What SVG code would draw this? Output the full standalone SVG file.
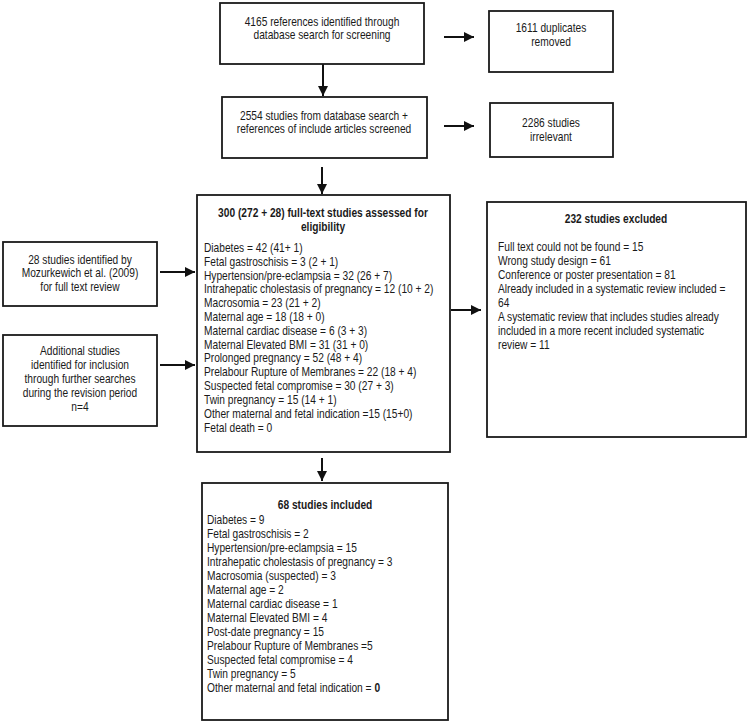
<svg xmlns="http://www.w3.org/2000/svg" width="750" height="725" viewBox="0 0 750 725">
<defs>
<marker id="ah" viewBox="0 0 10 10" refX="10" refY="5" markerWidth="5" markerHeight="5" orient="auto" markerUnits="strokeWidth">
<path d="M0,0 L10,5 L0,10 z" fill="#111"/>
</marker>
<style>
.box{fill:#fff;stroke:#1a1a1a;stroke-width:1.8}
.t{font-family:"Liberation Sans",Arial,sans-serif;font-size:12px;fill:#1a1a1a}
.c{text-anchor:middle}
.b{font-weight:bold}
.a{stroke:#111;stroke-width:2;fill:none;marker-end:url(#ah)}
</style>
</defs>
<rect width="750" height="725" fill="#fff"/>
<g id="connectors">
<line class="a" x1="444" y1="37" x2="474" y2="37"/>
<line class="a" x1="323" y1="64" x2="323" y2="96"/>
<line class="a" x1="444" y1="126" x2="474" y2="126"/>
<line class="a" x1="322" y1="167" x2="322" y2="194"/>
<line class="a" x1="451" y1="310" x2="481" y2="310"/>
<line class="a" x1="160" y1="272" x2="195" y2="272"/>
<line class="a" x1="160" y1="365" x2="195" y2="365"/>
<line class="a" x1="322" y1="458" x2="322" y2="481"/>
</g>
<g id="n1">
<rect class="box" x="220" y="3" width="204" height="61"/>
<g transform="translate(322,0) scale(0.85,1)">
<text class="t c" x="0" y="26">4165 references identified through</text>
<text class="t c" x="0" y="39">database search for screening</text>
</g>
</g>
<g id="n2">
<rect class="box" x="489" y="11" width="124" height="61"/>
<g transform="translate(551,0) scale(0.85,1)">
<text class="t c" x="0" y="32">1611 duplicates</text>
<text class="t c" x="0" y="46">removed</text>
</g>
</g>
<g id="n3">
<rect class="box" x="222" y="97" width="205" height="61"/>
<g transform="translate(324,0) scale(0.85,1)">
<text class="t c" x="0" y="120">2554 studies from database search +</text>
<text class="t c" x="0" y="133">references of include articles screened</text>
</g>
</g>
<g id="n4">
<rect class="box" x="490" y="103" width="123" height="54"/>
<g transform="translate(551,0) scale(0.85,1)">
<text class="t c" x="0" y="127">2286 studies</text>
<text class="t c" x="0" y="141">irrelevant</text>
</g>
</g>
<g id="n5">
<rect class="box" x="197" y="195" width="253" height="257"/>
<g transform="translate(323,0) scale(0.85,1)">
<text class="t c b" x="0" y="217">300 (272 + 28) full-text studies assessed for</text>
<text class="t c b" x="0" y="231">eligibility</text>
</g>
<g transform="translate(204,0) scale(0.85,1)">
<text class="t" x="0" y="252">Diabetes = 42 (41+ 1)</text>
<text class="t" x="0" y="266">Fetal gastroschisis = 3 (2 + 1)</text>
<text class="t" x="0" y="280">Hypertension/pre-eclampsia = 32 (26 + 7)</text>
<text class="t" x="0" y="293">Intrahepatic cholestasis of pregnancy = 12 (10 + 2)</text>
<text class="t" x="0" y="307">Macrosomia = 23 (21 + 2)</text>
<text class="t" x="0" y="321">Maternal age = 18 (18 + 0)</text>
<text class="t" x="0" y="335">Maternal cardiac disease = 6 (3 + 3)</text>
<text class="t" x="0" y="349">Maternal Elevated BMI = 31 (31 + 0)</text>
<text class="t" x="0" y="362">Prolonged pregnancy = 52 (48 + 4)</text>
<text class="t" x="0" y="376">Prelabour Rupture of Membranes = 22 (18 + 4)</text>
<text class="t" x="0" y="390">Suspected fetal compromise = 30 (27 + 3)</text>
<text class="t" x="0" y="404">Twin pregnancy = 15 (14 + 1)</text>
<text class="t" x="0" y="418">Other maternal and fetal indication =15 (15+0)</text>
<text class="t" x="0" y="432">Fetal death = 0</text>
</g>
</g>
<g id="n6">
<rect class="box" x="487" y="202" width="259" height="235"/>
<g transform="translate(616,0) scale(0.85,1)">
<text class="t c b" x="0" y="223">232 studies excluded</text>
</g>
<g transform="translate(498,0) scale(0.85,1)">
<text class="t" x="0" y="251">Full text could not be found = 15</text>
<text class="t" x="0" y="265">Wrong study design = 61</text>
<text class="t" x="0" y="279">Conference or poster presentation = 81</text>
<text class="t" x="0" y="293">Already included in a systematic review included =</text>
<text class="t" x="0" y="307">64</text>
<text class="t" x="0" y="321">A systematic review that includes studies already</text>
<text class="t" x="0" y="335">included in a more recent included systematic</text>
<text class="t" x="0" y="349">review = 11</text>
</g>
</g>
<g id="n7">
<rect class="box" x="3" y="242" width="154" height="64"/>
<g transform="translate(80,0) scale(0.85,1)">
<text class="t c" x="0" y="264">28 studies identified by</text>
<text class="t c" x="0" y="277">Mozurkewich et al. (2009)</text>
<text class="t c" x="0" y="291">for full text review</text>
</g>
</g>
<g id="n8">
<rect class="box" x="3" y="335" width="154" height="91"/>
<g transform="translate(80,0) scale(0.85,1)">
<text class="t c" x="0" y="355">Additional studies</text>
<text class="t c" x="0" y="369">identified for inclusion</text>
<text class="t c" x="0" y="383">through further searches</text>
<text class="t c" x="0" y="397">during the revision period</text>
<text class="t c" x="0" y="411">n=4</text>
</g>
</g>
<g id="n9">
<rect class="box" x="202" y="483" width="246" height="237"/>
<g transform="translate(325,0) scale(0.85,1)">
<text class="t c b" x="0" y="509">68 studies included</text>
</g>
<g transform="translate(207,0) scale(0.85,1)">
<text class="t" x="0" y="524">Diabetes = 9</text>
<text class="t" x="0" y="538">Fetal gastroschisis = 2</text>
<text class="t" x="0" y="552">Hypertension/pre-eclampsia = 15</text>
<text class="t" x="0" y="566">Intrahepatic cholestasis of pregnancy = 3</text>
<text class="t" x="0" y="580">Macrosomia (suspected) = 3</text>
<text class="t" x="0" y="594">Maternal age = 2</text>
<text class="t" x="0" y="608">Maternal cardiac disease = 1</text>
<text class="t" x="0" y="622">Maternal Elevated BMI = 4</text>
<text class="t" x="0" y="636">Post-date pregnancy = 15</text>
<text class="t" x="0" y="650">Prelabour Rupture of Membranes =5</text>
<text class="t" x="0" y="664">Suspected fetal compromise = 4</text>
<text class="t" x="0" y="678">Twin pregnancy = 5</text>
<text class="t" x="0" y="692">Other maternal and fetal indication = <tspan class="b">0</tspan></text>
</g>
</g>
</svg>
